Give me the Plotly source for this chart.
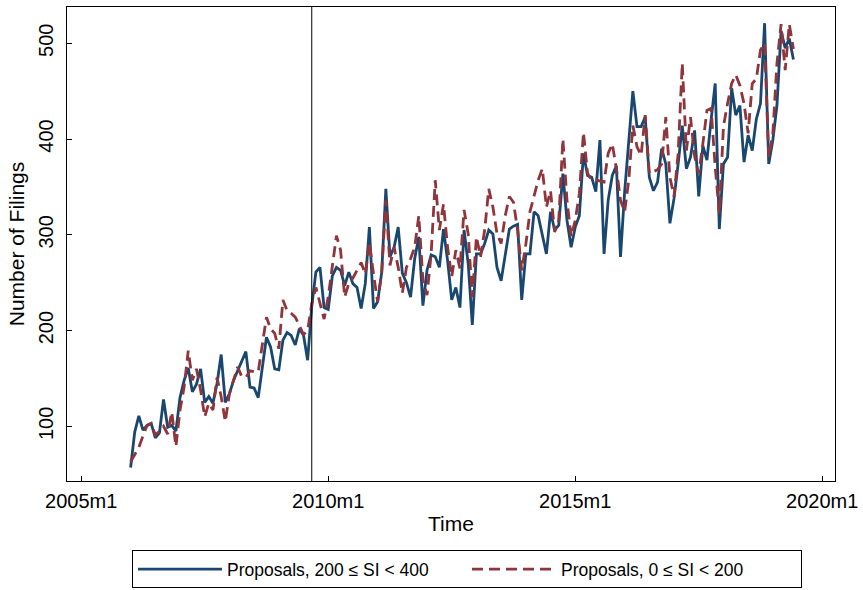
import plotly.graph_objects as go
import pandas as pd

# ---- data (monthly, 2006m1 .. 2019m6) ----
start_month = "2006-01"
end_month = "2019-06"
event_month = "2009-09"

proposals_200_400 = [
    57, 94, 111, 96, 101, 103, 88, 93, 128, 99, 101, 95,
    130, 148, 161, 136, 144, 160, 125, 131, 124, 145, 175, 125,
    134, 148, 158, 168, 178, 141, 140, 130, 162, 193, 183, 160,
    159, 190, 198, 195, 185, 202, 195, 169, 225, 261, 266, 224,
    222, 257, 266, 263, 247, 261, 249, 245, 223, 249, 308, 223,
    230, 261, 348, 277, 287, 308, 260, 250, 235, 275, 298, 226,
    263, 279, 277, 266, 306, 273, 232, 245, 224, 305, 270, 206,
    280, 280, 291, 305, 301, 266, 252, 280, 306, 309, 311, 232,
    280, 280, 324, 320, 298, 280, 324, 305, 310, 364, 315, 287,
    308, 320, 385, 362, 360, 345, 399, 280, 336, 362, 372, 277,
    345, 400, 450, 413, 413, 423, 360, 346, 355, 390, 374, 312,
    338, 374, 414, 369, 381, 409, 340, 393, 378, 420, 458, 306,
    374, 381, 453, 425, 435, 376, 404, 388, 421, 437, 521, 374,
    399, 435, 513, 495, 505, 483,
]

proposals_0_200 = [
    63, 70, 78, 90, 101, 103, 91, 95, 100, 92, 115, 79,
    117, 141, 179, 148, 160, 138, 110, 124, 117, 151, 131, 105,
    134, 148, 162, 152, 151, 158, 157, 157, 185, 214, 202, 197,
    181, 232, 221, 218, 214, 204, 196, 200, 228, 245, 228, 212,
    235, 268, 299, 284, 235, 249, 255, 263, 271, 259, 292, 259,
    230, 261, 336, 268, 287, 266, 239, 266, 275, 287, 320, 253,
    237, 280, 357, 305, 332, 287, 256, 284, 265, 326, 301, 235,
    298, 277, 305, 348, 329, 301, 291, 320, 340, 334, 305, 263,
    290, 324, 341, 357, 369, 329, 346, 303, 315, 400, 336, 298,
    315, 343, 407, 364, 357, 358, 356, 355, 385, 395, 369, 336,
    324, 357, 414, 392, 383, 425, 364, 366, 368, 374, 423, 360,
    340, 385, 479, 388, 423, 382, 364, 395, 430, 432, 371, 322,
    413, 437, 458, 467, 456, 437, 406, 458, 463, 493, 500, 381,
    406, 479, 520, 472, 520, 494,
]

tick_months = ["2005-01", "2010-01", "2015-01", "2020-01"]
tick_labels = ["2005m1", "2010m1", "2015m1", "2020m1"]
y_ticks = [100, 200, 300, 400, 500]


def stata_month(p):
    """months since 1960m1 (Stata %tm)"""
    p = pd.Period(p, freq="M")
    return (p.year - 1960) * 12 + (p.month - 1)


periods = pd.period_range(start_month, end_month, freq="M")
x = [stata_month(p) for p in periods]

fig = go.Figure()
fig.add_trace(go.Scatter(
    x=x, y=proposals_200_400, mode="lines",
    name="Proposals, 200 \u2264 SI < 400",
    line=dict(color="#1a476f", width=2.8),
))
fig.add_trace(go.Scatter(
    x=x, y=proposals_0_200, mode="lines",
    name="Proposals, 0 \u2264 SI < 200",
    line=dict(color="#90353b", width=2.8, dash="11px,6px"),
))

fig.add_vline(x=stata_month(event_month), line=dict(color="black", width=1))

font_family = "Liberation Sans, Arial, Helvetica, sans-serif"

fig.update_layout(
    width=863, height=590,
    margin=dict(l=67, r=28, t=7, b=109, autoexpand=False),
    paper_bgcolor="white", plot_bgcolor="white",
    font=dict(family=font_family, color="black", size=20),
    showlegend=True,
    legend=dict(
        orientation="h", x=0.0846, xanchor="left", y=-0.146, yanchor="top",
        bordercolor="black", borderwidth=1, font=dict(size=17.5),
        entrywidth=235, itemwidth=84,
    ),
    xaxis=dict(
        range=[stata_month("2005-01") - 3.45, stata_month("2020-01") + 3.1],
        tickvals=[stata_month(t) for t in tick_months], ticktext=tick_labels,
        ticks="inside", ticklen=5, tickcolor="black",
        showline=True, linecolor="black", linewidth=1.3, mirror=True,
        showgrid=False, zeroline=False, ticklabelstandoff=2, automargin=False,
        title=dict(text="Time", font=dict(size=21), standoff=5),
        tickfont=dict(size=20),
    ),
    yaxis=dict(
        range=[42.9, 537.9],
        tickvals=y_ticks, tickangle=-90,
        ticks="inside", ticklen=5, tickcolor="black",
        showline=True, linecolor="black", linewidth=1.3, mirror=True,
        showgrid=False, zeroline=False, ticklabelstandoff=5, automargin=False,
        title=dict(text="Number of Filings", font=dict(size=21), standoff=4),
        tickfont=dict(size=20),
    ),
)

fig.write_html("out.html")
